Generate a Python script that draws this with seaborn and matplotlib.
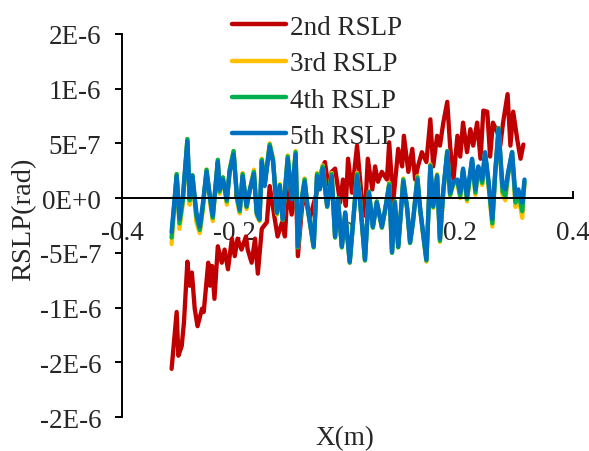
import matplotlib
matplotlib.use("Agg")
import matplotlib.pyplot as plt
import numpy as np
import pandas as pd
import seaborn as sns

# ---------------- data (RSLP values in units of 1e-7 rad) ----------------
series_names = ["2nd RSLP", "3rd RSLP", "4th RSLP", "5th RSLP"]
series_colors = ["#C00000", "#FFC000", "#00B050", "#0070C0"]

x_2nd = [-0.312, -0.303, -0.300, -0.294, -0.290, -0.284, -0.280, -0.276, -0.271, -0.266,
         -0.258, -0.255, -0.247, -0.244, -0.240, -0.236, -0.230, -0.223, -0.218, -0.212,
         -0.205, -0.200, -0.195, -0.188, -0.180, -0.177, -0.170, -0.164, -0.159, -0.152,
         -0.143, -0.138, -0.129, -0.124, -0.116, -0.111, -0.106, -0.099, -0.092, -0.088,
         -0.081, -0.076, -0.067, -0.060, -0.052, -0.045, -0.040, -0.034, -0.028, -0.022,
         -0.013, -0.008, -0.003, 0.001, 0.008, 0.017, 0.026, 0.031, 0.036, 0.044,
         0.049, 0.054, 0.061, 0.070, 0.074, 0.081, 0.090, 0.097, 0.100, 0.108,
         0.115, 0.120, 0.125, 0.132, 0.140, 0.147, 0.152, 0.159, 0.164, 0.170,
         0.177, 0.182, 0.188, 0.195, 0.200, 0.205, 0.212, 0.218, 0.223, 0.230,
         0.236, 0.241, 0.248, 0.253, 0.258, 0.266, 0.271, 0.276, 0.284, 0.289,
         0.294, 0.301, 0.307, 0.312]
rslp_2nd = [-15.6, -10.4, -14.4, -13.5, -11.3, -5.8, -8.0, -6.8, -10.1, -11.7,
            -10.1, -10.4, -5.9, -8.0, -6.2, -9.2, -4.4, -5.9, -4.7, -6.5,
            -3.7, -5.3, -3.7, -4.7, -3.5, -4.7, -5.9, -3.7, -6.9, -2.8,
            -2.2, 1.1, -1.9, -3.5, -2.2, -3.5, 1.0, -1.5, 2.5, -5.3,
            -1.0, 0.5, -1.9, -0.5, 1.0, 2.7, 3.3, 1.1, 2.4, 2.7,
            -0.4, 1.7, -0.7, 3.6, 0.5, 4.8, -0.4, -1.6, 3.6, 0.8,
            2.9, 1.5, 2.4, 1.7, 5.1, -0.4, 4.5, 2.9, 5.7, 2.4,
            4.5, 1.7, 2.9, 4.2, 3.3, 7.2, 2.9, 5.7, 4.8, 6.9,
            8.8, 4.8, 1.7, 5.7, 3.8, 6.9, 4.2, 6.3, 4.8, 6.9,
            3.6, 8.0, 7.9, 3.8, 6.9, 6.0, 4.8, 6.9, 9.5, 4.8,
            7.9, 5.4, 3.6, 4.9]

x_hi = [-0.312, -0.303, -0.298, -0.292, -0.284, -0.280, -0.275, -0.268, -0.262, -0.257,
        -0.250, -0.244, -0.239, -0.230, -0.227, -0.221, -0.214, -0.209, -0.202, -0.196,
        -0.191, -0.186, -0.179, -0.173, -0.166, -0.161, -0.156, -0.152, -0.147, -0.138,
        -0.132, -0.125, -0.120, -0.115, -0.106, -0.099, -0.092, -0.088, -0.081, -0.076,
        -0.071, -0.060, -0.054, -0.049, -0.044, -0.036, -0.028, -0.022, -0.017, -0.010,
        -0.004, 0.004, 0.017, 0.022, 0.031, 0.038, 0.045, 0.052, 0.061, 0.067,
        0.074, 0.079, 0.084, 0.090, 0.099, 0.106, 0.111, 0.116, 0.124, 0.129,
        0.134, 0.140, 0.147, 0.152, 0.159, 0.164, 0.170, 0.177, 0.182, 0.188,
        0.195, 0.200, 0.205, 0.212, 0.221, 0.227, 0.232, 0.239, 0.244, 0.250,
        0.257, 0.262, 0.268, 0.275, 0.280, 0.285, 0.292, 0.298, 0.303, 0.310,
        0.314]
rslp_3rd = [-4.2, 2.2, -2.8, -0.5, 5.4, -0.6, 2.1, -2.2, -3.2, -1.3,
            2.6, -0.3, -2.1, 3.5, 0.4, 1.9, -0.6, 2.6, 4.3, -0.2,
            -1.4, 2.3, -1.0, 0.8, 2.6, -1.6, -2.1, 3.6, 1.2, 5.0,
            3.6, -1.5, 1.3, -2.0, 3.9, 0.0, 4.3, -4.5, 0.0, 1.8,
            -0.8, -4.5, 2.3, 0.9, 3.0, -0.8, 2.3, -3.6, 0.0, -4.5,
            -1.4, -5.9, 2.3, 0.0, -5.7, 0.6, -2.7, -0.3, -2.7, -1.0,
            1.4, -5.0, -0.3, -4.5, 1.8, -1.0, -4.1, -2.3, 2.0, -1.1,
            -3.3, -5.8, 3.1, -0.9, 2.2, -4.0, 0.5, 4.3, 0.2, 1.3,
            1.4, 0.0, 2.5, -0.3, 3.5, 0.3, 2.8, 1.2, 4.1, 1.2,
            -2.6, 2.1, 6.4, 0.3, -0.2, 2.1, 4.2, -0.8, 0.2, -1.8,
            1.4]
rslp_4th = [-3.6, 2.2, -2.3, -0.2, 5.4, -0.2, 2.1, -1.7, -2.9, -1.0,
            2.6, 0.0, -1.8, 3.5, 0.6, 1.9, -0.3, 2.6, 4.3, 0.0,
            -1.2, 2.2, -0.8, 0.8, 2.4, -1.4, -2.0, 3.5, 1.2, 4.9,
            3.5, -1.4, 1.2, -2.0, 3.8, 0.0, 4.2, -4.5, 0.0, 1.7,
            -0.8, -4.5, 2.2, 0.9, 2.9, -0.8, 2.2, -3.6, 0.0, -4.5,
            -1.4, -5.9, 2.2, 0.0, -5.7, 0.6, -2.7, -0.3, -2.7, -1.0,
            1.3, -5.0, -0.3, -4.5, 1.7, -1.0, -4.1, -2.3, 1.9, -1.1,
            -3.2, -5.7, 3.0, -0.8, 2.1, -3.9, 0.6, 4.3, 0.3, 1.4,
            1.5, 0.2, 2.6, -0.1, 3.5, 0.5, 2.8, 1.4, 4.1, 1.4,
            -2.3, 2.2, 6.4, 0.6, 0.2, 2.2, 4.2, -0.4, 0.5, -1.2,
            1.5]
rslp_5th = [-3.1, 2.0, -1.9, 0.2, 5.2, 0.2, 2.0, -1.3, -2.6, -0.7,
            2.4, 0.2, -1.6, 3.3, 0.8, 1.7, -0.1, 2.4, 4.0, 0.2,
            -1.0, 2.0, -0.7, 0.8, 2.2, -1.3, -1.9, 3.3, 1.1, 4.7,
            3.3, -1.3, 1.1, -1.9, 3.6, -0.1, 4.0, -4.4, -0.1, 1.5,
            -0.7, -4.4, 2.0, 0.8, 2.7, -0.7, 2.0, -3.5, -0.1, -4.4,
            -1.3, -5.8, 2.0, -0.1, -5.6, 0.5, -2.6, -0.4, -2.6, -1.0,
            1.1, -4.9, -0.4, -4.4, 1.5, -1.0, -4.0, -2.2, 1.7, -1.0,
            -3.1, -5.6, 2.9, -0.7, 2.0, -3.7, 0.8, 4.2, 0.5, 1.5,
            1.7, 0.5, 2.7, 0.2, 3.6, 0.8, 2.9, 1.7, 4.2, 1.7,
            -1.9, 2.4, 6.3, 1.1, 0.8, 2.4, 4.2, 0.2, 0.8, -0.4,
            1.7]

x_ticks = [-0.4, -0.2, 0.0, 0.2, 0.4]
x_tick_labels = ["-0.4", "-0.2", "0", "0.2", "0.4"]
y_ticks = [-2.0e-6, -1.5e-6, -1.0e-6, -5e-7, 0.0, 5e-7, 1.0e-6, 1.5e-6]
y_tick_labels = ["-2E-6", "-2E-6", "-1E-6", "-5E-7", "0E+0", "5E-7", "1E-6", "2E-6"]

# ---------------- build long table ----------------
frames = []
for name, xs, ys in [("2nd RSLP", x_2nd, rslp_2nd), ("3rd RSLP", x_hi, rslp_3rd),
                     ("4th RSLP", x_hi, rslp_4th), ("5th RSLP", x_hi, rslp_5th)]:
    frames.append(pd.DataFrame({"x": xs, "y": np.array(ys) * 1e-7, "series": name}))
df = pd.concat(frames, ignore_index=True)

# ---------------- plot ----------------
sns.set_theme(style="white")
plt.rcParams["font.family"] = ["Liberation Serif", "DejaVu Serif"]
FS = 19.5

fig = plt.figure(figsize=(5.89, 4.52), dpi=100)
ax = fig.add_axes([0.2071, 0.0752, 0.7657, 0.8474])

sns.lineplot(data=df, x="x", y="y", hue="series", hue_order=series_names,
             palette=dict(zip(series_names, series_colors)), sort=False,
             estimator=None, linewidth=3.1, ax=ax)
for ln in ax.get_lines():
    ln.set_solid_joinstyle("round")
    ln.set_solid_capstyle("round")

ax.set_xlim(-0.4, 0.4)
ax.set_ylim(-2.0e-6, 1.5e-6)
ax.set_xticks(x_ticks)
ax.set_xticklabels(x_tick_labels)
ax.set_yticks(y_ticks)
ax.set_yticklabels(y_tick_labels)

for s in ["top", "right"]:
    ax.spines[s].set_visible(False)
ax.spines["bottom"].set_position(("data", 0))
for s in ["left", "bottom"]:
    ax.spines[s].set_color("black")
    ax.spines[s].set_linewidth(1.4)

ax.tick_params(axis="x", direction="in", length=5, width=1.4, color="black",
               labelsize=FS, pad=16, bottom=True)
ax.tick_params(axis="y", direction="out", length=5, width=1.4, color="black",
               labelsize=FS, pad=10, left=True)

ax.set_xlabel("X(m)", fontsize=FS)
ax.set_ylabel("RSLP(rad)", fontsize=20.5)
ax.xaxis.label.set_va("center")
ax.xaxis.set_label_coords(0.495, -0.053)
ax.yaxis.set_label_coords(-0.19, 0.52)

handles, labels = ax.get_legend_handles_labels()
leg = ax.legend(handles, labels, loc="upper left", bbox_to_anchor=(0.394, 0.965),
                bbox_transform=fig.transFigure, frameon=False, fontsize=FS,
                handlelength=2.0, handletextpad=0.15, labelspacing=0.42,
                borderpad=0, borderaxespad=0)
for ln in leg.get_lines():
    ln.set_linewidth(3.2)

fig.savefig("out.png", dpi=100)
